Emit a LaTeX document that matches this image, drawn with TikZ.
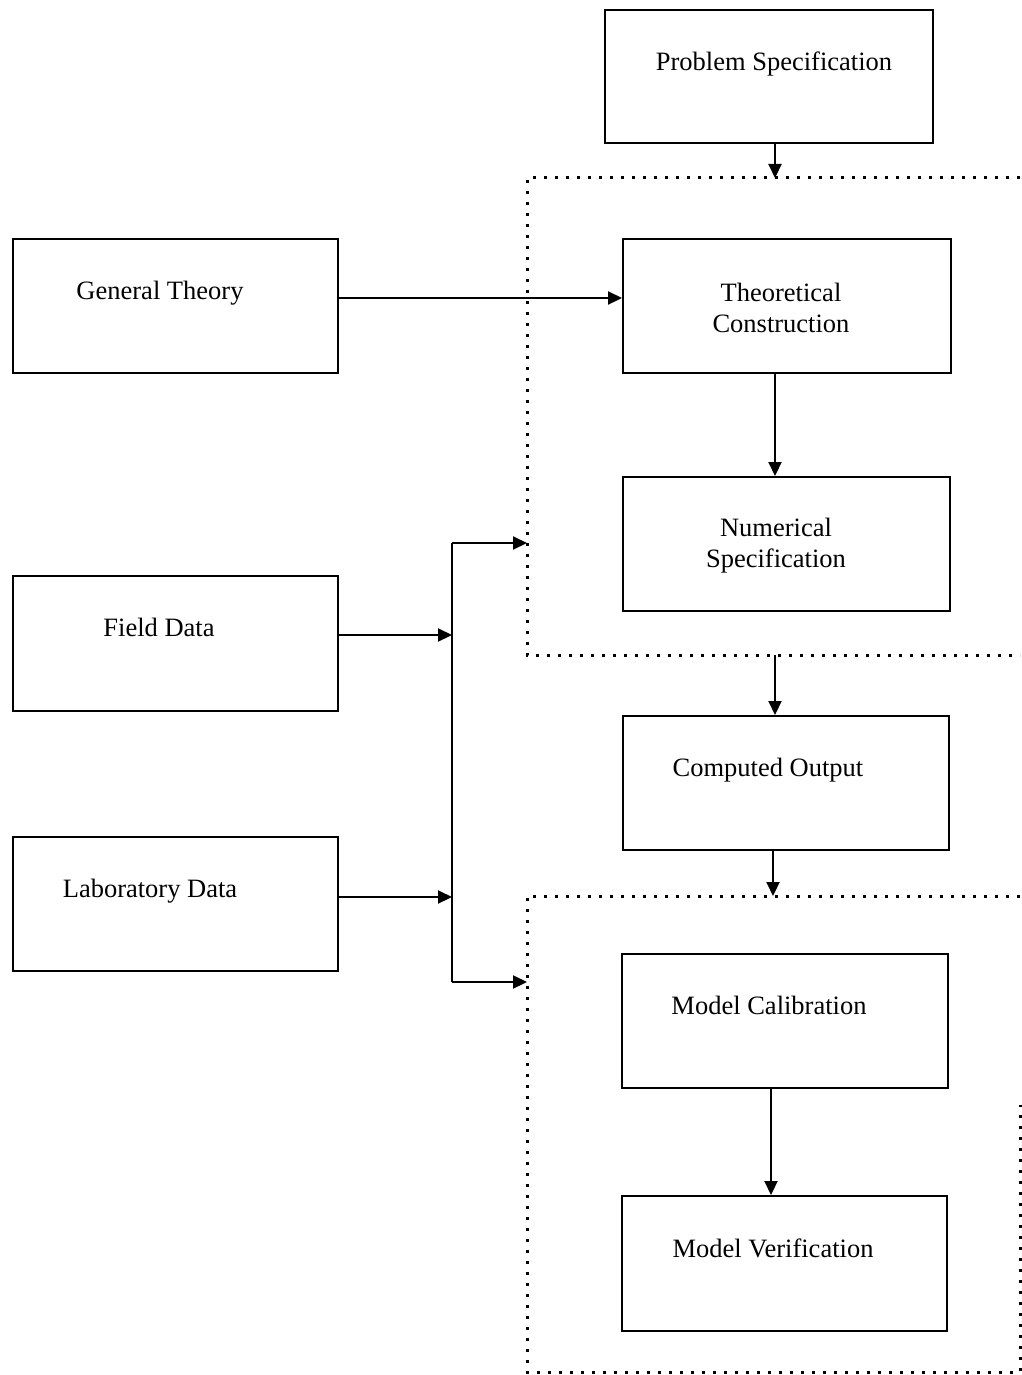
\documentclass[tikz,border=0pt]{standalone}
\usepackage{fontspec}
\setmainfont{Liberation Serif}
\usetikzlibrary{arrows.meta}
\begin{document}
\begin{tikzpicture}[x=1pt,y=-1pt,
  boxnode/.style={draw=black,line width=2.2pt,rectangle,inner sep=0pt,anchor=north west},
  txt/.style={font=\fontsize{26.5}{31}\selectfont,align=center,inner sep=0pt},
  conn/.style={line width=2.1pt,-{Triangle[length=14pt,width=13pt]}},
  bus/.style={line width=2.1pt},
  dotline/.style={line width=3pt,dash pattern=on 3pt off 8pt}
]
\useasboundingbox (0,0) rectangle (1021,1375);
% boxes
\node[boxnode,minimum width=328pt,minimum height=133pt] (ps) at (604,9) {};
\node[boxnode,minimum width=325pt,minimum height=134pt] (gt) at (12,238) {};
\node[boxnode,minimum width=328pt,minimum height=134pt] (tc) at (622,238) {};
\node[boxnode,minimum width=327pt,minimum height=134pt] (ns) at (622,476) {};
\node[boxnode,minimum width=325pt,minimum height=135pt] (fd) at (12,575) {};
\node[boxnode,minimum width=326pt,minimum height=134pt] (co) at (622,715) {};
\node[boxnode,minimum width=325pt,minimum height=134pt] (ld) at (12,836) {};
\node[boxnode,minimum width=326pt,minimum height=134pt] (mc) at (621,953) {};
\node[boxnode,minimum width=325pt,minimum height=135pt] (mv) at (621,1195) {};
% texts
\node[txt,anchor=mid] (pst) at (774,68) {Problem Specification};
\node[txt,anchor=mid] (gtt) at (160,297) {General Theory};
\node[txt] (tct) at (781,308) {Theoretical\\Construction};
\node[txt] (nst) at (776,546) {Numerical\\Specification};
\node[txt,anchor=mid] (fdt) at (159,634) {Field Data};
\node[txt,anchor=mid] (cot) at (768,774) {Computed Output};
\node[txt,anchor=mid] (ldt) at (150,895) {Laboratory Data};
\node[txt,anchor=mid] (mct) at (769,1012) {Model Calibration};
\node[txt,anchor=mid] (mvt) at (773,1255) {Model Verification};
% dotted groups
\coordinate (d1tl) at (527,178);
\coordinate (d1tr) at (1020,178);
\coordinate (d1bl) at (527,655);
\coordinate (d1br) at (1020,655);
\coordinate (d2tl) at (527,896);
\coordinate (d2tr) at (1020,896);
\coordinate (d2bl) at (527,1372);
\coordinate (d2br) at (1020,1372);
\coordinate (d2rm) at (1020,1105);
\draw[dotline] (d1tr) -- (d1tl) -- (d1bl) -- (d1br);
\draw[dotline] (d2tr) -- (d2tl) -- (d2bl) -- (d2br) -- (d2rm);
% connector anchors
\coordinate (d1top) at (775,178);
\coordinate (d1bot) at (775,655);
\coordinate (d2top) at (773,896);
\coordinate (busA) at (452,543);
\coordinate (busB) at (452,982);
\coordinate (busF) at (452,635);
\coordinate (busL) at (452,897);
\coordinate (inA) at (527,543);
\coordinate (inB) at (527,982);
\coordinate (mcx) at (771,0);
% connectors
\draw[conn] (ps.south -| d1top) -- (d1top);
\draw[conn] (gt.east |- 0,298) -- (tc.west |- 0,298);
\draw[conn] (tc.south -| d1top) -- (ns.north -| d1top);
\draw[conn] (fd.east |- busF) -- (busF);
\draw[conn] (ld.east |- busL) -- (busL);
\draw[bus] (busB) -- (busA);
\draw[conn] (busA) -- (inA);
\draw[conn] (busB) -- (inB);
\draw[conn] (d1bot) -- (co.north -| d1bot);
\draw[conn] (co.south -| d2top) -- (d2top);
\draw[conn] (mc.south -| mcx) -- (mv.north -| mcx);
\end{tikzpicture}
\end{document}
